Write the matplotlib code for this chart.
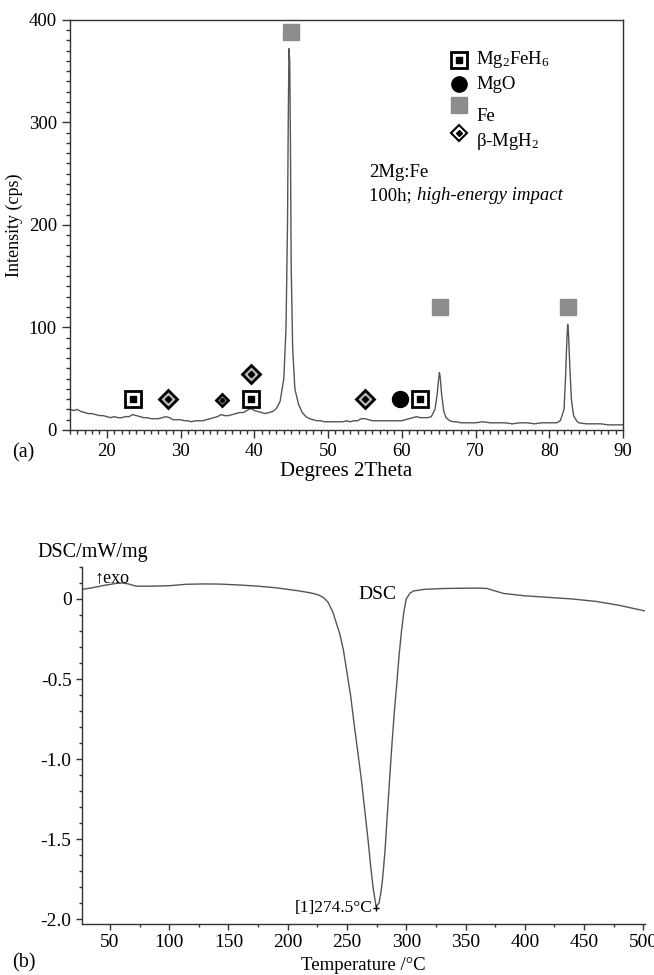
import matplotlib
matplotlib.use("Agg")
import matplotlib.pyplot as plt
from matplotlib.ticker import MultipleLocator

plt.rcParams['font.family'] = ['Liberation Serif', 'DejaVu Serif']
plt.rcParams['mathtext.default'] = 'regular'

# ---- (a) XRD pattern ----
two_theta = [15.0, 15.5, 16.0, 16.5, 17.0, 17.5, 18.0, 18.5, 19.0, 19.5, 20.0, 20.5,
             21.0, 21.5, 22.0, 22.5, 23.0, 23.5, 24.0, 24.5, 25.0, 25.5, 26.0, 26.5,
             27.0, 27.5, 28.0, 28.5, 29.0, 29.5, 30.0, 30.5, 31.0, 31.5, 32.0, 32.5,
             33.0, 33.5, 34.0, 34.5, 35.0, 35.5, 36.0, 36.5, 37.0, 37.5, 38.0, 38.5,
             39.0, 39.5, 40.0, 40.5, 41.0, 41.5, 42.0, 42.5, 43.0, 43.5, 44.0, 44.3,
             44.5, 44.6, 44.7, 44.8, 44.9, 45.0, 45.2, 45.5, 46.0, 46.5, 47.0, 47.5,
             48.0, 48.5, 49.0, 49.5, 50.0, 50.5, 51.0, 51.5, 52.0, 52.5, 53.0, 53.5,
             54.0, 54.5, 55.0, 55.5, 56.0, 56.5, 57.0, 57.5, 58.0, 58.5, 59.0, 59.5,
             60.0, 60.5, 61.0, 61.5, 62.0, 62.5, 63.0, 63.5, 64.0, 64.5, 64.8, 65.0,
             65.1, 65.2, 65.4, 65.7, 66.0, 66.5, 67.0, 67.5, 68.0, 69.0, 70.0, 71.0,
             72.0, 73.0, 74.0, 75.0, 76.0, 77.0, 78.0, 79.0, 80.0, 80.5, 81.0, 81.5,
             82.0, 82.2, 82.4, 82.5, 82.6, 82.8, 83.0, 83.3, 83.7, 84.0, 85.0, 86.0,
             87.0, 88.0, 89.0, 90.0]
intensity = [20, 19, 20, 18, 17, 16, 16, 15, 14, 14, 13, 12,
             13, 12, 12, 13, 13, 15, 14, 13, 12, 12, 11, 11,
             11, 12, 13, 12, 10, 10, 10, 9, 9, 8, 9, 9,
             9, 10, 11, 12, 13, 15, 14, 14, 15, 16, 17, 17,
             19, 21, 19, 18, 17, 16, 17, 18, 21, 28, 50, 100,
             200, 300, 372, 360, 280, 160, 80, 40, 25, 17, 13, 11,
             10, 9, 9, 8, 8, 8, 8, 8, 8, 9, 8, 9,
             9, 11, 11, 10, 9, 9, 9, 9, 9, 9, 9, 9,
             9, 10, 11, 12, 13, 12, 12, 12, 13, 20, 35, 50,
             56, 52, 35, 18, 12, 9, 8, 8, 7, 7, 7, 8,
             7, 7, 7, 6, 7, 7, 6, 7, 7, 7, 7, 9,
             20, 50, 90, 103, 95, 60, 30, 14, 9, 7, 6, 6,
             6, 5, 5, 5]

# phase markers (2theta, intensity)
mg2feh6_x = [23.5, 39.6, 62.5]
mg2feh6_y = [30, 30, 30]
mgo_x = [59.8]
mgo_y = [30]
fe_x = [45.0, 65.2, 82.6]
fe_y = [388, 120, 120]
mgh2_x = [28.3, 39.6, 55.0]
mgh2_y = [30, 55, 30]
mgh2_small_x = [35.6]
mgh2_small_y = [29]

# ---- (b) DSC curve ----
temp = [26.6, 35, 45, 55, 60, 65, 72, 85, 100, 115, 130, 143, 160, 175, 190, 200,
        210, 220, 226, 230, 234, 238, 241, 244, 247, 250, 253, 256, 259, 262, 265,
        268, 270, 272, 274.5, 277, 278.5, 280, 282, 284, 286, 288, 290, 292, 294,
        296, 298, 300, 303, 306, 315, 330, 345, 360, 368, 375, 382, 390, 400, 420,
        440, 460, 480, 501.5]
dsc = [0.06, 0.07, 0.085, 0.097, 0.1, 0.095, 0.08, 0.08, 0.083, 0.092, 0.094, 0.093,
       0.087, 0.08, 0.07, 0.06, 0.05, 0.037, 0.025, 0.01, -0.02, -0.08, -0.15, -0.22,
       -0.32, -0.46, -0.6, -0.78, -0.95, -1.12, -1.32, -1.52, -1.67, -1.8, -1.92, -1.9,
       -1.84, -1.75, -1.58, -1.35, -1.12, -0.9, -0.7, -0.53, -0.35, -0.2, -0.08, 0.0,
       0.035, 0.05, 0.06, 0.065, 0.067, 0.068, 0.066, 0.05, 0.035, 0.028, 0.02, 0.01,
       0.0, -0.015, -0.04, -0.075]

line_col = '#555555'
fig = plt.figure(figsize=(6.54, 9.75), dpi=100)

# ---------------- panel (a) ----------------
ax1 = fig.add_axes([0.107, 0.559, 0.8456, 0.4205])
ax1.plot(two_theta, intensity, color=line_col, lw=1.0)


def boxdot(ax, x, y, size=11.5):
    ax.plot(x, y, 's', ms=size, mfc='white', mec='black', mew=2.0, ls='none', zorder=5)
    ax.plot(x, y, 's', ms=size * 0.33, mfc='black', mec='black', ls='none', zorder=6)


def diadot(ax, x, y, size=9.0):
    ax.plot(x, y, 'D', ms=size, mfc='#bbbbbb', mec='black', mew=2.0, ls='none', zorder=5)
    ax.plot(x, y, 'D', ms=size * 0.35, mfc='black', mec='black', ls='none', zorder=6)


boxdot(ax1, mg2feh6_x, mg2feh6_y)
ax1.plot(mgo_x, mgo_y, 'o', ms=11.5, color='black', ls='none', zorder=5)
ax1.plot(fe_x, fe_y, 's', ms=11.5, color='#8c8c8c', ls='none', zorder=5)
diadot(ax1, mgh2_x, mgh2_y)
diadot(ax1, mgh2_small_x, mgh2_small_y, size=6.5)

# legend made of markers + text
boxdot(ax1, [67.8], [361], size=11)
ax1.text(70.1, 361, 'Mg$_2$FeH$_6$', fontsize=13.5, va='center')
ax1.plot([67.8], [337.5], 'o', ms=11, color='black')
ax1.text(70.1, 337.5, 'MgO', fontsize=13.5, va='center')
ax1.plot([67.8], [317], 's', ms=11, color='#8c8c8c')
ax1.text(70.1, 306, 'Fe', fontsize=13.5, va='center')
ax1.plot([67.8], [290], 'D', ms=8, mfc='white', mec='black', mew=1.5)
ax1.plot([67.8], [290], 'D', ms=3, color='black')
ax1.text(70.1, 281, 'β-MgH$_2$', fontsize=13.5, va='center')

ax1.text(55.6, 251, '2Mg:Fe', fontsize=13.5, va='center')
t100 = ax1.text(55.6, 224, '100h; ', fontsize=13.5, va='baseline')
ax1.annotate('high-energy impact', xy=(1, 0), xycoords=t100, fontsize=13.5,
             va='bottom', ha='left', style='italic')

ax1.set_xlim(15, 90)
ax1.set_ylim(0, 400)
ax1.xaxis.set_major_locator(MultipleLocator(10))
ax1.xaxis.set_minor_locator(MultipleLocator(1))
ax1.yaxis.set_major_locator(MultipleLocator(100))
ax1.yaxis.set_minor_locator(MultipleLocator(10))
ax1.tick_params(which='both', direction='out', colors='#333333', labelcolor='black',
                labelsize=13.5)
ax1.tick_params(which='major', length=6, width=1)
ax1.tick_params(which='minor', length=3, width=1)
for s in ax1.spines.values():
    s.set_color('#333333')
    s.set_linewidth(1.0)
ax1.set_xlabel('Degrees 2Theta', fontsize=15, labelpad=1)
ax1.set_ylabel('Intensity (cps)', fontsize=13, labelpad=4)
fig.text(0.018, 0.536, '(a)', fontsize=14.5, va='center')

# ---------------- panel (b) ----------------
ax2 = fig.add_axes([0.1254, 0.0523, 0.8609, 0.3662])
ax2.plot(temp, dsc, color=line_col, lw=1.0)
ax2.plot([274.5], [-1.93], marker='+', ms=5, color='black', mew=1)
ax2.text(272, -1.93, '[1]274.5°C', fontsize=12.5, ha='right', va='center')
ax2.text(276, 0.03, 'DSC', fontsize=14, ha='center', va='center')
ax2.text(37, 0.135, '↑exo', fontsize=13, ha='left', va='center')

ax2.set_xlim(26.4, 501.5)
ax2.set_ylim(-2.03, 0.2)
ax2.xaxis.set_major_locator(MultipleLocator(50))
ax2.xaxis.set_minor_locator(MultipleLocator(25))
ax2.yaxis.set_minor_locator(MultipleLocator(0.1))
ax2.set_yticks([0, -0.5, -1.0, -1.5, -2.0])
ax2.set_yticklabels(['0', '-0.5', '-1.0', '-1.5', '-2.0'])
ax2.tick_params(which='both', direction='out', colors='#333333', labelcolor='black',
                labelsize=14)
ax2.tick_params(which='major', length=4, width=1)
ax2.tick_params(which='minor', length=2, width=1)
ax2.spines['top'].set_visible(False)
ax2.spines['right'].set_visible(False)
for s in ('left', 'bottom'):
    ax2.spines[s].set_color('#333333')
    ax2.spines[s].set_linewidth(1.0)
ax2.set_xlabel('Temperature /°C', fontsize=13.5, labelpad=4)
fig.text(0.057, 0.433, 'DSC/mW/mg', fontsize=14.5, va='center')
fig.text(0.018, 0.012, '(b)', fontsize=14.5, va='center')

fig.savefig('out.png', dpi=100)
